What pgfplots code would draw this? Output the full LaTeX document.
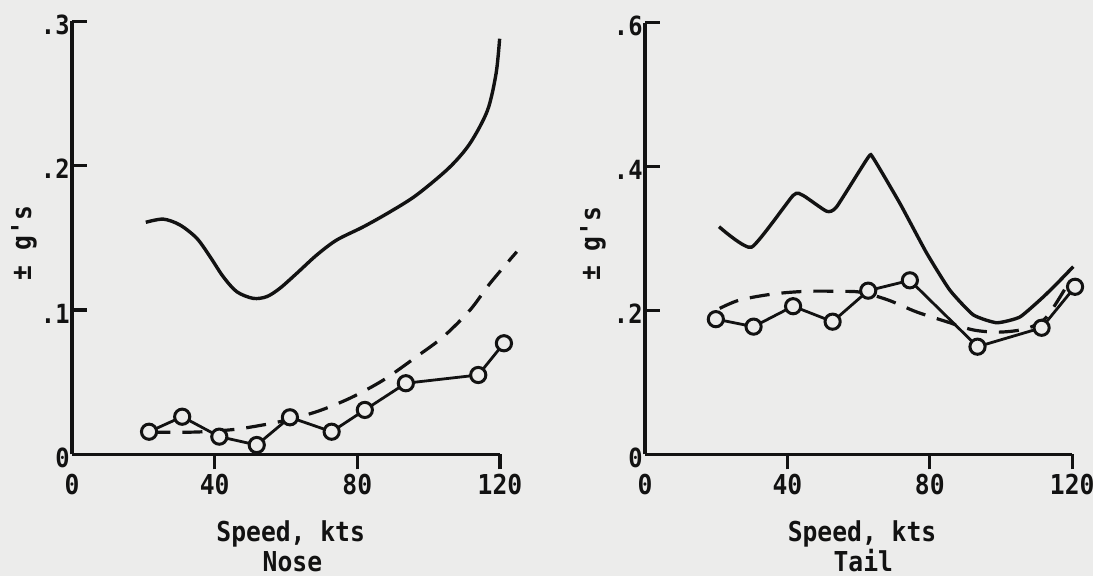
\documentclass[border=0pt]{standalone}
\usepackage{fontspec}
\newfontfamily\lgfont[FakeStretch=0.9]{DejaVu Sans Mono}
\usepackage{pgfplots}
\pgfplotsset{compat=1.18}
\definecolor{paper}{RGB}{236,236,235}
\definecolor{ink}{RGB}{18,18,18}
\newcommand\labfont{\fontsize{13.7}{16}\selectfont\lgfont\bfseries}
\newcommand\tickfont{\fontsize{13.2}{15}\selectfont\lgfont\bfseries}
\pgfplotsset{panel/.style={scale only axis, clip=false, anchor=south west,
  axis lines=left, axis line style={-, line width=1.6pt, ink},
  tick align=inside, major tick length=7.5pt, tick style={line width=1.6pt, ink},
  xtick style={yshift=-7.5pt},
  xmin=0, xmax=120, xtick={40,80,120}, xticklabels={40,80,120},
  extra x ticks={0}, extra x tick labels={0}, extra x tick style={tick style={draw=none}},
  xticklabel style={font=\labfont, text=ink, anchor=base, inner sep=0pt, yshift=-20pt},
  yticklabel style={font=\tickfont, text=ink, anchor=base east, inner sep=0pt, xshift=-1pt, yshift=-6.5pt}},
  curve/.style={ink, line width=1.7pt, smooth},
  dash/.style={ink, line width=1.6pt, smooth, dash pattern=on 10pt off 6pt},
  pts/.style={ink, line width=1.4pt, mark=*, mark size=3.8pt,
  mark options={solid, fill=paper, draw=ink, line width=1.5pt}}}
\tikzset{lab/.style={font=\labfont, text=ink, inner sep=0pt}}

\begin{document}
\begin{tikzpicture}
\fill[paper] (0,0) rectangle (546.5pt,288pt);

% nose
\begin{axis}[panel, at={(36pt,60.8pt)}, width=214pt, height=216.5pt,
  ymin=0, ymax=0.3, ytick={0,0.1,0.2,0.3}, yticklabels={0,.1,.2,.3}]
\addplot[curve] coordinates {(20.7,0.1608) (25.6,0.1630) (30.3,0.1589) (35.0,0.1497) (38.7,0.1370)
  (42.4,0.1231) (46.2,0.1127) (50.8,0.1081) (54.6,0.1093) (58.3,0.1151) (63.0,0.1254) (68.6,0.1381)
  (74.2,0.1485) (81.7,0.1577) (89.2,0.1681) (96.6,0.1797) (105.7,0.1985)
  (111.6,0.2155) (116.5,0.2384) (118.9,0.2639) (119.9,0.2880)};
\addplot[dash] coordinates {(22,0.0153) (28,0.0153) (35.0,0.0155) (42,0.0165) (48.0,0.0181)
  (58.3,0.0227) (68.6,0.0296) (77.9,0.0389) (87.3,0.0515) (96.6,0.0677) (104.1,0.0815)
  (111.6,0.1000) (117.2,0.1185) (124.7,0.1404)};
\addplot[pts] coordinates {(21.6,0.0157) (30.9,0.0261) (41.3,0.0123) (51.8,0.0065) (61.1,0.0257)
  (72.8,0.0157) (82.1,0.0308) (93.6,0.0493) (113.9,0.0550) (121.1,0.0770)};
\node[lab, xshift=-24pt, rotate=90] at (rel axis cs:0,0.488) {± g's};
\node[lab, anchor=base, yshift=-43.5pt] at (rel axis cs:0.511,0) {Speed, kts};
\node[lab, anchor=base, yshift=-58.6pt] at (rel axis cs:0.515,0) {Nose};
\end{axis}

% tail
\begin{axis}[panel, at={(322.5pt,60.8pt)}, width=213.6pt, height=215.8pt,
  ymin=0, ymax=0.6, ytick={0,0.2,0.4,0.6}, yticklabels={0,.2,.4,.6}]
\addplot[curve, tension=0.3] coordinates {(20.8,0.3165) (29.9,0.288) (41.6,0.360) (44.4,0.360)
  (51.0,0.338) (53.8,0.344) (62.7,0.413) (64.1,0.412) (71.6,0.349) (79.1,0.280) (85.6,0.2285)
  (92.2,0.194) (98.8,0.183) (105.3,0.191) (111.9,0.219) (116.6,0.242) (120.3,0.261)};
\addplot[dash] coordinates {(21.0,0.203) (26.6,0.2146) (36.0,0.223) (45.3,0.2267) (54.7,0.2267)
  (60.8,0.2253) (68.3,0.2146) (76.3,0.198) (84.7,0.1845) (92.2,0.173) (99.7,0.170)
  (107.2,0.175) (112.8,0.191) (119.4,0.242)};
\addplot[pts] coordinates {(19.9,0.188) (30.5,0.1776) (41.6,0.206) (52.7,0.1845) (62.7,0.2276)
  (74.4,0.242) (93.4,0.1497) (111.4,0.176) (120.8,0.233)};
\node[lab, xshift=-26pt, rotate=90] at (rel axis cs:0,0.488) {± g's};
\node[lab, anchor=base, yshift=-43.5pt] at (rel axis cs:0.508,0) {Speed, kts};
\node[lab, anchor=base, yshift=-58.6pt] at (rel axis cs:0.511,0) {Tail};
\end{axis}

\pgfresetboundingbox
\path (0,0) rectangle (546.5pt,288pt);
\end{tikzpicture}
\end{document}
